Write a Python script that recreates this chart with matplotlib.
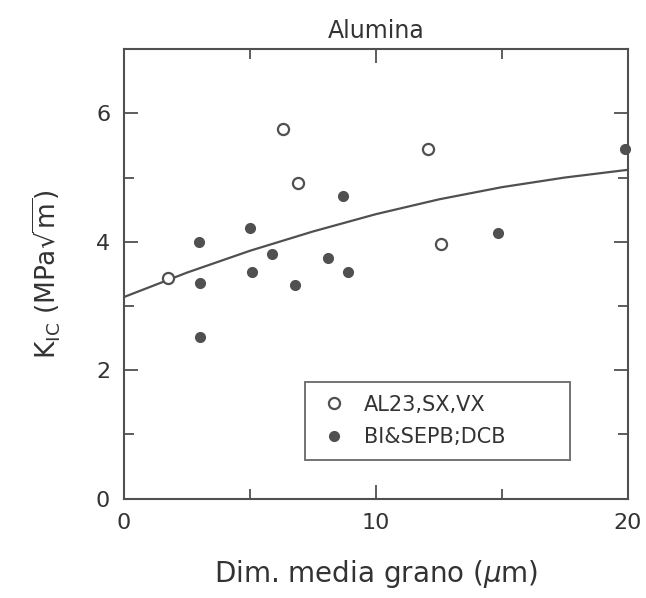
import matplotlib
matplotlib.use("Agg")
import matplotlib.pyplot as plt
from matplotlib.ticker import MultipleLocator

# AL23, SX, VX (open circles)
open_x = [1.75, 6.3, 6.9, 12.06, 12.6]
open_y = [3.44, 5.75, 4.91, 5.45, 3.97]

# BI&SEPB; DCB (filled circles)
fill_x = [2.98, 3.0, 3.0, 5.0, 5.08, 5.87, 6.8, 8.1, 8.7, 8.9, 14.85, 19.9]
fill_y = [4.0, 3.36, 2.52, 4.21, 3.53, 3.81, 3.33, 3.74, 4.71, 3.53, 4.14, 5.45]

# trend curve
fit_x = [0, 2.5, 5, 7.5, 10, 12.5, 15, 17.5, 20]
fit_y = [3.14, 3.52, 3.86, 4.16, 4.43, 4.66, 4.85, 5.0, 5.12]

plt.rcParams['font.family'] = ['DejaVu Sans']
plt.rcParams['mathtext.fontset'] = 'dejavusans'
ink = '#505050'
txt = '#333333'

fig = plt.figure(figsize=(6.46, 5.98), dpi=100)
ax = fig.add_axes([0.192, 0.166, 0.780, 0.752])

ax.plot(fit_x, fit_y, color=ink, lw=1.6)
ax.plot(open_x, open_y, 'o', mfc='white', mec=ink, mew=1.6, ms=8,
        label='AL23,SX,VX', clip_on=False)
ax.plot(fill_x, fill_y, 'o', color=ink, ms=7, label='BI&SEPB;DCB',
        clip_on=False)

ax.set_xlim(0, 20)
ax.set_ylim(0, 7)
ax.xaxis.set_major_locator(MultipleLocator(10))
ax.xaxis.set_minor_locator(MultipleLocator(5))
ax.yaxis.set_major_locator(MultipleLocator(2))
ax.yaxis.set_minor_locator(MultipleLocator(1))
ax.tick_params(which='both', direction='in', top=True, right=True,
               color=ink, width=1.3, labelcolor=txt, labelsize=16)
ax.tick_params(which='major', length=10, pad=10)
ax.tick_params(which='minor', length=7)
for s in ax.spines.values():
    s.set_color(ink)
    s.set_linewidth(1.5)

ax.set_title('Alumina', fontsize=17, color=txt, pad=8)
ax.set_xlabel(r'Dim. media grano ($\mu$m)', fontsize=20, color=txt,
              labelpad=18)
ax.set_ylabel(r'K$_{\rm IC}$ (MPa$\sqrt{\rm m}$)', fontsize=19,
              color=txt, labelpad=24)

leg = ax.legend(loc='lower left', bbox_to_anchor=(0.36, 0.087, 0.525, 0.183),
                mode='expand', borderaxespad=0, fontsize=15, frameon=True,
                fancybox=False, handletextpad=0.7, borderpad=0.6,
                labelspacing=0.6, handlelength=1.5, labelcolor=txt)
leg.get_frame().set_edgecolor(ink)
leg.get_frame().set_linewidth(1.4)

fig.savefig('out.png', dpi=100)
